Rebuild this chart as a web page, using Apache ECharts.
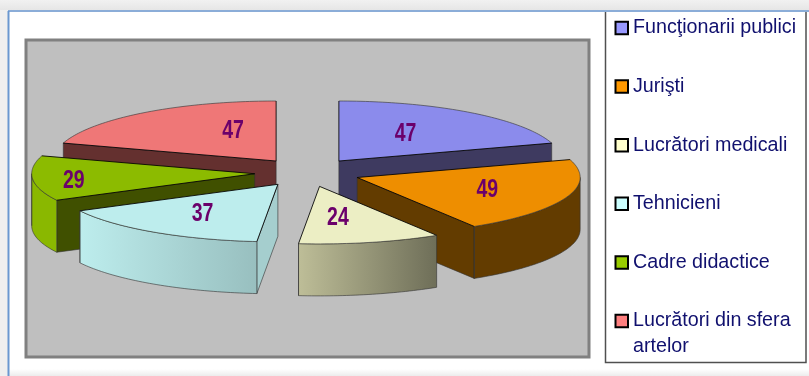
<!DOCTYPE html>
<html>
<head>
<meta charset="utf-8">
<style>html,body{margin:0;padding:0;background:#efefef;}#c{width:809px;height:376px;}</style>
<script src="https://cdn.jsdelivr.net/npm/echarts@6/dist/echarts.min.js"></script>
</head>
<body>
<div id="c"></div>
<script>
const categories = ['Funcţionarii publici','Jurişti','Lucrători medicali','Tehnicieni','Cadre didactice','Lucrători din sfera artelor'];
const values = [47,49,24,37,29,47];

// Presentation only, no data below.
const swatch = ['#9999FF','#FF9900','#FFFFCC','#CCFFFF','#99CC00','#FF8080'];
const topFill = ['#8B8BEC','#EE8E00','#ECEEC4','#BDEDED','#8CBB00','#EF7777'];
const radialFill = ['#3E3A60','#633C00','#6E6E58','#A5CECE','#405000','#64302F'];
const grad = (a,b)=>new echarts.graphic.LinearGradient(0,0,1,0,[{offset:0,color:a},{offset:1,color:b}]);
const arcFill = ['#3E3A60','#633C00',grad('#BEBE98','#6E6E58'),grad('#BDEDED','#98BFBF'),'#8AB800','#64302F'];
const drawOrder = [5,0,4,1,3,2];
const labelShift = [[-10,1],[9,1],[-11,-1],[-3,2],[-52,4],[33.5,-2]];
const CX=307.5, CY=172.5, RX=223, RY_BACK=60, RY_FRONT=57.5, EXPLODE=53, DEPTH=52;
const EDGE='rgba(0,0,0,0.85)', SOFT='rgba(50,50,50,0.6)';

const total = values.reduce((a,b)=>a+b,0);
const startOf = i => values.slice(0,i).reduce((a,b)=>a+b,0)/total*2*Math.PI;
const pt = (c,a,f=1)=>{
  const co=Math.cos(a);
  return [c[0]+RX*f*Math.sin(a), c[1]-(co>0?RY_BACK:RY_FRONT)*f*co];
};
const down = p=>[p[0],p[1]+DEPTH];

function arc(c,a0,a1){
  const n=Math.max(2,Math.ceil((a1-a0)/0.02)), out=[];
  for(let k=0;k<=n;k++) out.push(pt(c,a0+(a1-a0)*k/n));
  return out;
}
function poly(points,fill){
  return {type:'polygon',shape:{points},style:{fill,stroke:SOFT,lineWidth:1}};
}
function line(points,stroke){
  return {type:'polyline',shape:{points},style:{fill:'none',stroke,lineWidth:1}};
}
function renderSlice(i){
  const a0=startOf(i), a1=startOf(i+1), mid=(a0+a1)/2;
  const c=[CX+EXPLODE*Math.sin(mid), CY-EXPLODE*RY_BACK/RX*Math.cos(mid)];
  const kids=[];
  const radial=a=>{const p=pt(c,a);kids.push(poly([c,p,down(p),down(c)],radialFill[i]));};
  if(Math.sin(a0)<-1e-6) radial(a0);
  if(Math.sin(a1)>1e-6) radial(a1);
  const v0=Math.max(a0,Math.PI/2), v1=Math.min(a1,Math.PI*1.5);
  if(v1>v0){
    const t=arc(c,v0,v1);
    kids.push(poly(t.concat(t.slice().reverse().map(down)),arcFill[i]));
    kids.push(line([t[t.length-1],down(t[t.length-1])],SOFT));
  }
  const edge=arc(c,a0,a1);
  kids.push({type:'polygon',shape:{points:[c].concat(edge)},style:{fill:topFill[i]}});
  kids.push(line(edge,SOFT));
  kids.push(line([pt(c,a0),c,pt(c,a1)],EDGE));
  const l=pt(c,mid,0.58);
  kids.push({type:'text',x:l[0]+labelShift[i][0],y:l[1]+labelShift[i][1],scaleX:0.78,
    style:{x:0,y:0,text:String(values[i]),fill:'#6B006B',font:'bold 25px "Liberation Sans"',align:'center',verticalAlign:'middle'}});
  return {type:'group',children:kids};
}

const series = drawOrder.map((i,z)=>({
  type:'custom',name:categories[i],coordinateSystem:'none',z:2+z,silent:true,
  data:[values[i]],
  itemStyle:{color:swatch[i]},
  renderItem:()=>renderSlice(i)
}));

const legendFont={fontFamily:'"Liberation Sans"',fontSize:19.7,color:'#10106E',lineHeight:26};
const chart=echarts.init(document.getElementById('c'),null,{renderer:'canvas'});
chart.setOption({
  animation:false,
  backgroundColor:'#efefef',
  graphic:{elements:[
    {type:'rect',z:-10,shape:{x:9,y:12,width:800,height:364},style:{fill:'#fff'}},
    {type:'rect',z:-10,shape:{x:9,y:366,width:800,height:10},
      style:{fill:new echarts.graphic.LinearGradient(0,0,0,1,[{offset:0,color:'#ffffff'},{offset:0.3,color:'#ffffff'},{offset:1,color:'#ececec'}])}},
    {type:'rect',z:-10,shape:{x:0,y:0,width:809,height:10},
      style:{fill:new echarts.graphic.LinearGradient(0,0,0,1,[{offset:0,color:'#f1f1f1'},{offset:1,color:'#e6e6e6'}])}},
    {type:'line',z:-9,shape:{x1:8.5,y1:11,x2:8.5,y2:376},style:{stroke:'#6A97D0',lineWidth:2}},
    {type:'line',z:-9,shape:{x1:8,y1:11,x2:809,y2:11},style:{stroke:'#6A97D0',lineWidth:1.5}},
    {type:'rect',z:-9,shape:{x:26,y:40,width:563,height:317},style:{fill:'#BFBFBF',stroke:'#808080',lineWidth:3}},
    {type:'polyline',z:-9,shape:{points:[[605.5,12],[605.5,362.5],[806,362.5],[806,12]]},style:{fill:'#fff',stroke:'#505050',lineWidth:1.5}}
  ]},
  legend:{
    orient:'vertical',left:609.5,top:10,itemWidth:12.5,itemHeight:12.5,itemGap:32.6,selectedMode:false,icon:'rect',
    itemStyle:{borderColor:'#000',borderWidth:2},
    textStyle:legendFont,
    formatter:n=>n===categories[5]?'{a|Lucrători din sfera}\n{a|artelor}':n,
    data:categories.map((name,i)=>i===5?{name,textStyle:Object.assign({},legendFont,{padding:[0,0,-26,0],rich:{a:legendFont}})}:{name})
  },
  series
});
</script>
</body>
</html>
